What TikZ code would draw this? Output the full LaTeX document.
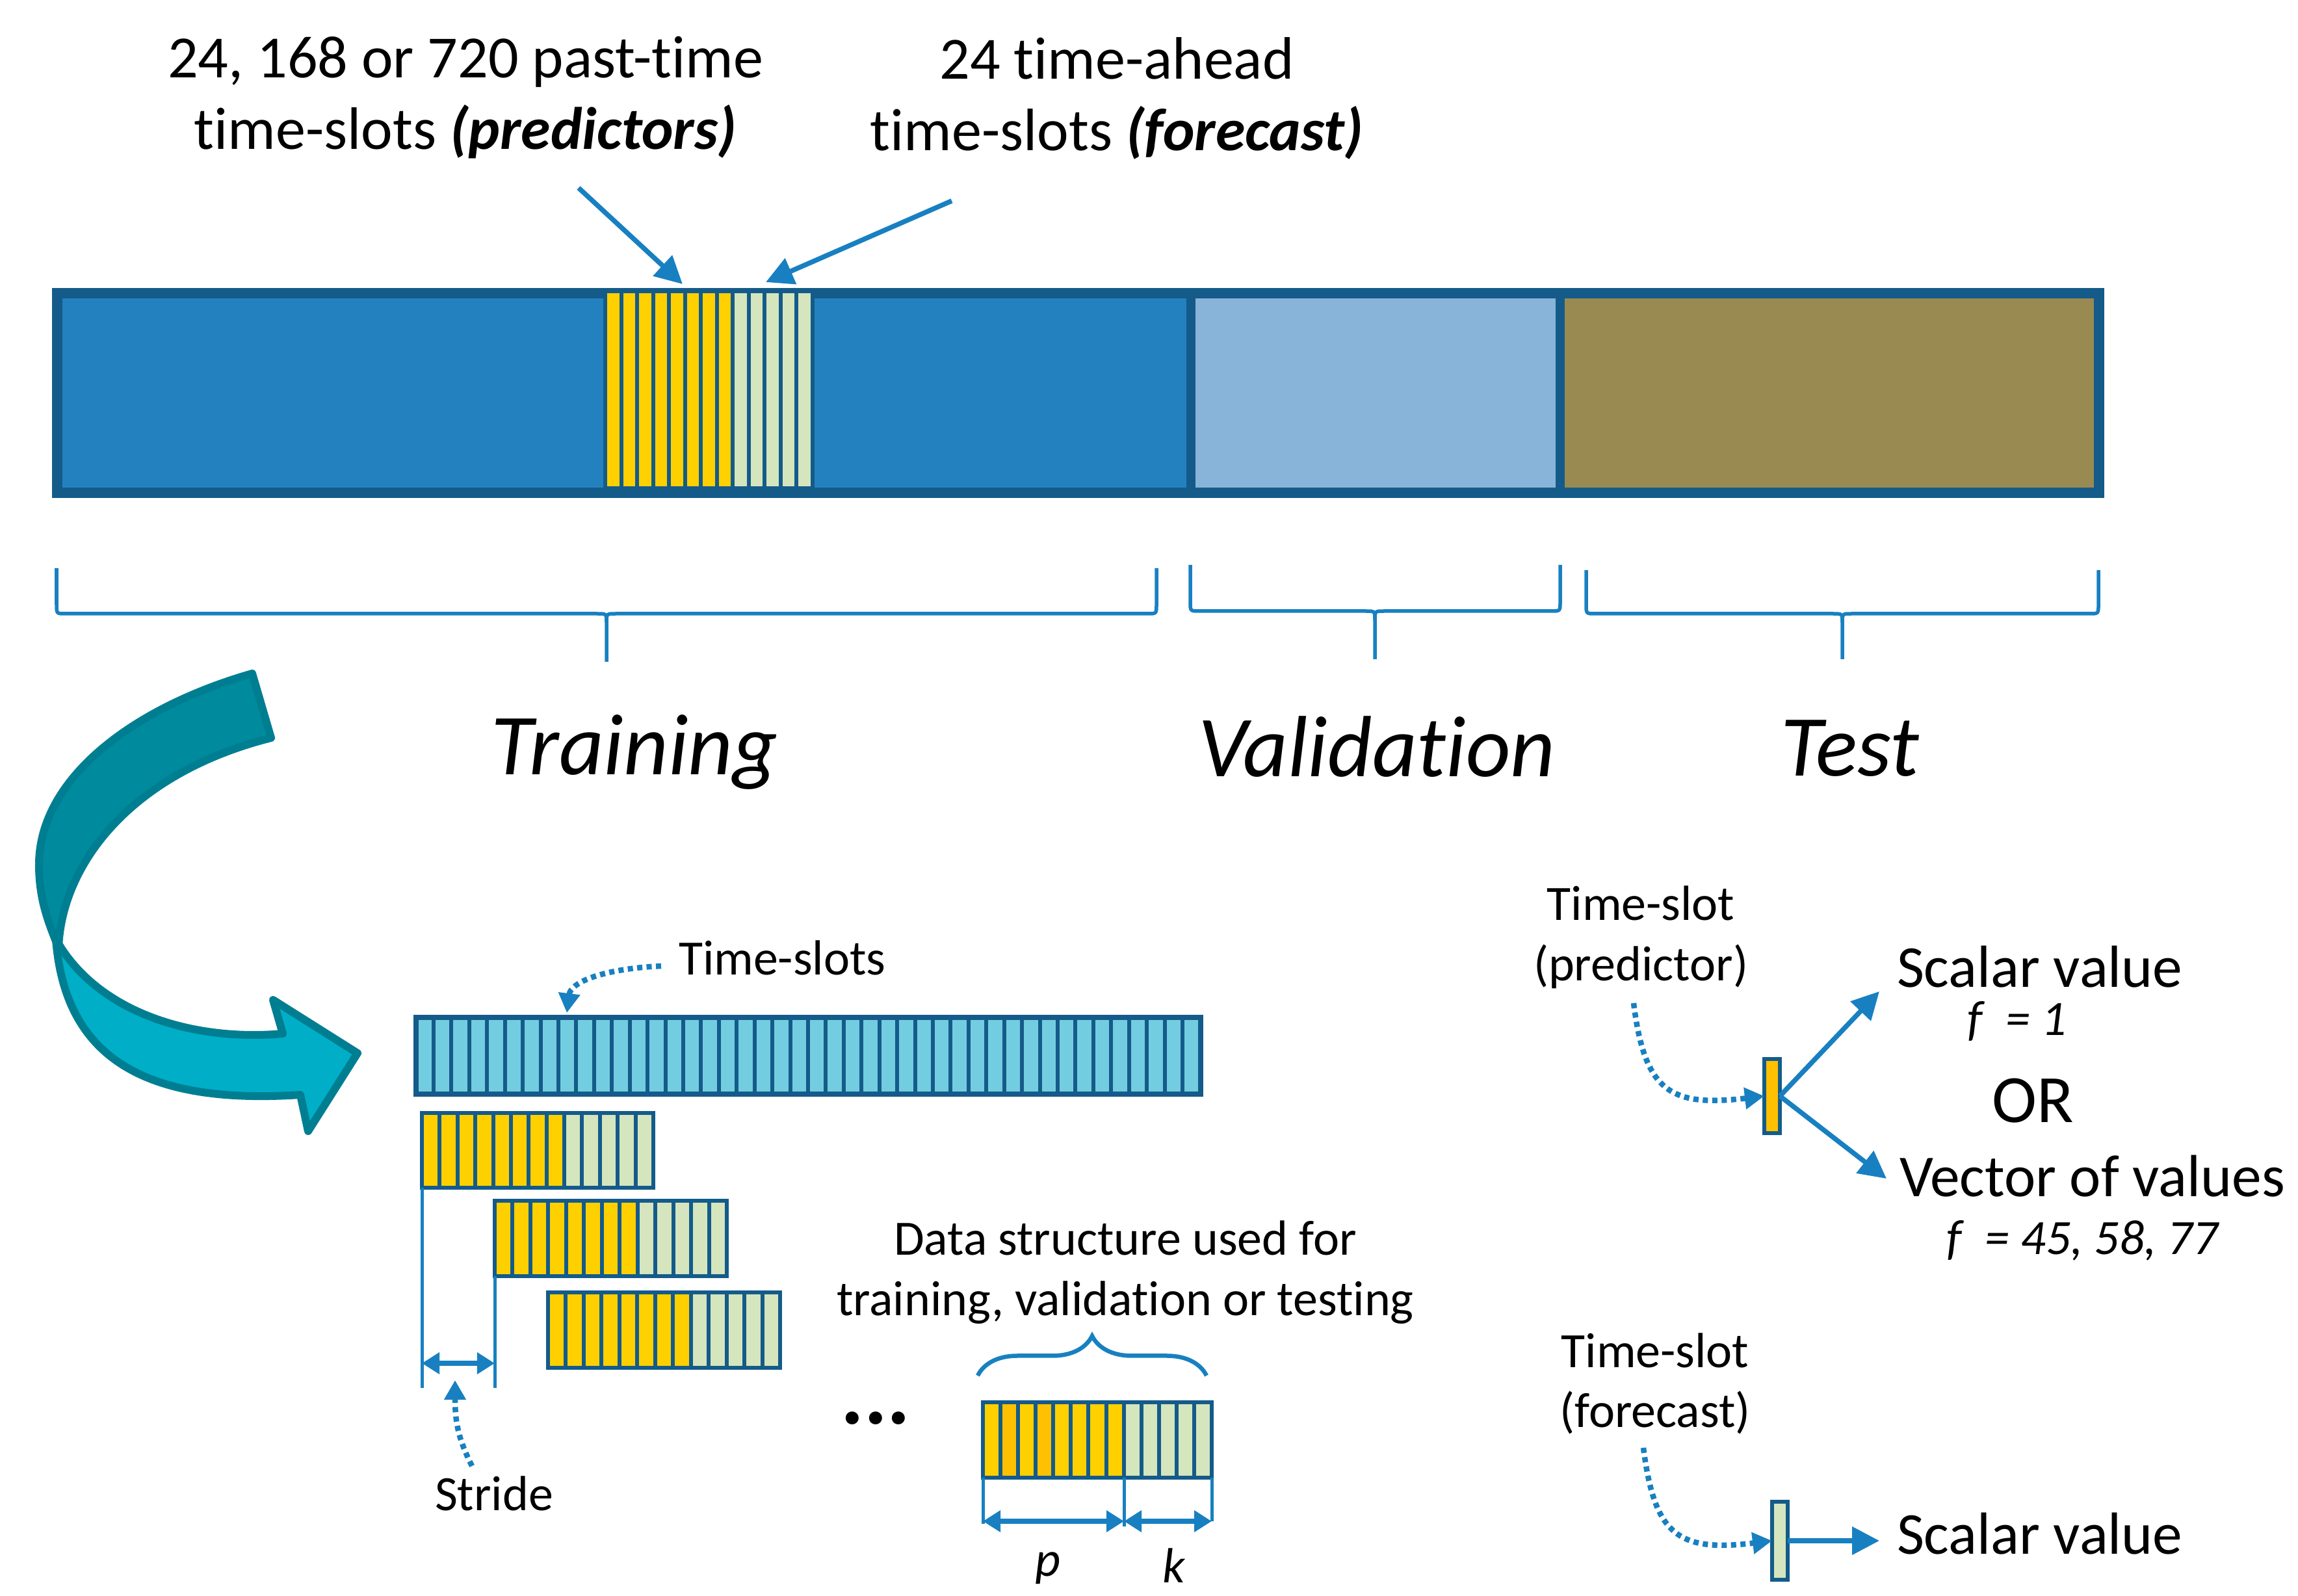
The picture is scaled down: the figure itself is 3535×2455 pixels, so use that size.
\documentclass[tikz,border=0pt]{standalone}
\usepackage{fontspec}
\setmainfont[Ligatures={NoCommon}]{Carlito}
\usetikzlibrary{arrows.meta,decorations.pathreplacing}
\definecolor{dkb}{RGB}{20,91,138}
\definecolor{trn}{RGB}{36,129,192}
\definecolor{vld}{RGB}{137,180,217}
\definecolor{tst}{RGB}{153,138,82}
\definecolor{ylw}{RGB}{255,208,0}
\definecolor{org}{RGB}{255,192,0}
\definecolor{grn}{RGB}{213,229,190}
\definecolor{cyn}{RGB}{115,205,224}
\definecolor{abl}{RGB}{24,128,193}
\definecolor{tdk}{RGB}{0,138,158}
\definecolor{tlt}{RGB}{0,174,199}
\definecolor{tol}{RGB}{0,126,145}
\newcommand\mywin[4]{%
  \foreach \i in {0,...,7} \draw[cellY] ({#1+\i*#3},#2) rectangle ++(#3,#4);
  \foreach \i in {8,...,12} \draw[cellG] ({#1+\i*#3},#2) rectangle ++(#3,#4);
}
\newcommand\topbrace[6]{%
  \draw[brc] (#1,#4) -- (#1,#5-14) .. controls (#1,#5) .. (#1+14,#5) -- (#3-14,#5) .. controls (#3,#5) .. (#3,#5+14) -- (#3,#6);
  \draw[brc] (#2,#4) -- (#2,#5-14) .. controls (#2,#5) .. (#2-14,#5) -- (#3+14,#5) .. controls (#3,#5) .. (#3,#5+14);
}
\begin{document}
\begin{tikzpicture}[x=0.01cm,y=-0.01cm,
  every node/.style={inner sep=0pt,outer sep=0pt},
  fA/.style={font=\fontsize{26.2}{31}\selectfont},
  fB/.style={font=\fontsize{21.6}{26}\selectfont},
  fC/.style={font=\fontsize{38}{44}\selectfont\itshape},
  fD/.style={font=\fontsize{26}{31}\selectfont},
  fE/.style={font=\fontsize{29.6}{34}\selectfont},
  fI/.style={font=\fontsize{21.6}{26}\selectfont\itshape},
  cellY/.style={fill=ylw,draw=dkb,line width=0.06cm},
  cellO/.style={fill=org,draw=dkb,line width=0.06cm},
  cellG/.style={fill=grn,draw=dkb,line width=0.06cm},
  cellC/.style={fill=cyn,draw=dkb,line width=0.06cm},
  brc/.style={draw=abl,line width=0.055cm},
  arr/.style={draw=abl,line width=0.075cm,-{Triangle[length=0.42cm,width=0.42cm]}},
  dim/.style={draw=abl,line width=0.08cm,{Triangle[length=0.27cm,width=0.32cm]}-{Triangle[length=0.27cm,width=0.32cm]}},
  vln/.style={draw=abl,line width=0.05cm},
  dotarr/.style={draw=abl,line width=0.085cm,dash pattern=on 0.08cm off 0.065cm,-{Triangle[length=0.3cm,width=0.32cm]}},
]
\useasboundingbox (0,0) rectangle (3535,2455);

% ---- top bar ----
\fill[trn] (88,451) rectangle (1832,758);
\fill[vld] (1832,451) rectangle (2400,758);
\fill[tst] (2400,451) rectangle (3229,758);
\draw[dkb,line width=0.14cm] (1832,451) -- (1832,758) (2400,451) -- (2400,758);
\draw[dkb,line width=0.16cm] (88,451) rectangle (3229,758);
\foreach \i in {0,...,7} \draw[cellY] ({931+\i*24.54},448) rectangle ++(24.54,303);
\foreach \i in {8,...,12} \draw[cellG] ({931+\i*24.54},448) rectangle ++(24.54,303);

% ---- top labels ----
\node[fA,anchor=base] (tl1) at (716,120) {24, 168 or 720 past-time};
\node[fA,anchor=base] (tl2) at (716,230) {time-slots \textbf{\textit{(predictors)}}};
\node[fA,anchor=base] (tr1) at (1718,122) {24 time-ahead};
\node[fA,anchor=base] (tr2) at (1718,232) {time-slots \textbf{\textit{(forecast)}}};
\coordinate (a1s) at (890,289); \coordinate (a1e) at (1050,437);
\coordinate (a2s) at (1464,309); \coordinate (a2e) at (1178,434);
\draw[arr] (a1s) -- (a1e);
\draw[arr] (a2s) -- (a2e);

% ---- braces ----
\topbrace{87}{1779}{933}{874}{944}{1018}
\topbrace{1831}{2400}{2115}{869}{940}{1014}
\topbrace{2440}{3228}{2834}{877}{944}{1014}
\node[fC,anchor=base] (trn) at (976,1192) {Training};
\node[fC,anchor=base] (val) at (2118,1195) {Validation};
\node[fC,anchor=base] (tst) at (2846,1193) {Test};

% ---- curved arrow ----
\filldraw[fill=tlt,draw=tol,line width=0.12cm,line join=round]
  (86,1445) .. controls (100,1625) and (220,1700) .. (462,1684) -- (474,1740) -- (550,1620) -- (420,1538) -- (435,1590)
  .. controls (300,1602) and (160,1560) .. (94,1458) -- cycle;
\filldraw[fill=tdk,draw=tol,line width=0.12cm,line join=round]
  (388,1036) .. controls (200,1090) and (60,1200) .. (60,1330) .. controls (60,1385) and (75,1420) .. (90,1458)
  .. controls (95,1330) and (200,1190) .. (417,1135) -- cycle;

% ---- time-slots bar ----
\foreach \i in {0,...,43} \draw[cellC] ({639.5+\i*27.43},1564.5) rectangle ++(27.43,118);
\draw[dkb,line width=0.08cm] (639.5,1564.5) rectangle (1846.5,1682.5);
\node[fB,anchor=base west] (tsl) at (1044,1499) {Time-slots};
\coordinate (tss) at (1017,1486); \coordinate (tse) at (872,1558);
\draw[dotarr] (tss) .. controls (930,1490) and (878,1510) .. (tse);

% ---- windows ----
\mywin{649}{1712}{27.38}{115}
\mywin{761}{1847}{27.46}{116}
\mywin{843}{1988}{27.46}{116}
\mywin{1512}{2157}{27.08}{116}
\draw[cellO] ({1512+27.08},2157) rectangle ++(27.08,116);
\draw[cellO] ({1512+3*27.08},2157) rectangle ++(27.08,116);

% ---- stride ----
\coordinate (s1) at (649,1827); \coordinate (s1b) at (649,2135);
\coordinate (s2) at (761,1963); \coordinate (s2b) at (761,2135);
\draw[vln] (s1) -- (s1b);
\draw[vln] (s2) -- (s2b);
\coordinate (d1) at (649,2097); \coordinate (d2) at (761,2097);
\draw[dim] (d1) -- (d2);
\node[fB,anchor=base] (str) at (760,2323) {Stride};
\coordinate (sts) at (726,2255); \coordinate (ste) at (700,2123);
\draw[dotarr] (sts) .. controls (706,2215) and (700,2190) .. (ste);

% ---- data structure ----
\node[fB,anchor=base] (ds1) at (1731,1930) {Data structure used for};
\node[fB,anchor=base] (ds2) at (1731,2023) {training, validation or testing};
\draw[abl,line width=0.065cm,decorate,decoration={brace,amplitude=0.61cm}] (1504,2116) -- (1856,2116);
\node[anchor=base,font=\fontsize{38}{40}\selectfont\bfseries] (dots) at (1347,2190) {...};
\coordinate (p1) at (1512,2273); \coordinate (p1b) at (1512,2344);
\coordinate (p2) at (1729,2273); \coordinate (p2b) at (1729,2348);
\coordinate (p3) at (1864,2273); \coordinate (p3b) at (1864,2340);
\draw[vln] (p1) -- (p1b);
\draw[vln] (p2) -- (p2b);
\draw[vln] (p3) -- (p3b);
\coordinate (q1) at (1512,2340); \coordinate (q2) at (1729,2340); \coordinate (q3) at (1864,2340);
\draw[dim] (q1) -- (q2);
\draw[dim] (q2) -- (q3);
\node[fI,anchor=base] (pl) at (1612,2424) {p};
\node[fI,anchor=base] (kl) at (1806,2434) {k};

% ---- predictor ----
\node[fB,anchor=base] (tp1) at (2524,1415) {Time-slot};
\node[fB,anchor=base] (tp2) at (2524,1508) {(predictor)};
\node[draw=dkb,fill=org,line width=0.06cm,minimum width=0.24cm,minimum height=1.14cm] (pc) at (2726,1686) {};
\coordinate (pds) at (2513,1543);
\draw[dotarr] (pds) .. controls (2530,1680) and (2570,1703) .. (pc.west);
\coordinate (pa1) at (2891,1525); \coordinate (pa2) at (2902,1813);
\draw[arr] (pc.east) -- (pa1);
\draw[arr] (pc.east) -- (pa2);
\node[fD,anchor=base west] (sv1) at (2918,1518) {Scalar value};
\node[fI,anchor=base] (f1) at (3103,1592) {f\hspace{0.25em} = 1};
\node[fE,anchor=base] (or) at (3127,1726) {OR};
\node[fD,anchor=base west] (vv) at (2922,1840) {Vector of values};
\node[fI,anchor=base] (f2) at (3203,1929) {f\hspace{0.25em} = 45, 58, 77};

% ---- forecast ----
\node[fB,anchor=base] (tf1) at (2546,2103) {Time-slot};
\node[fB,anchor=base] (tf2) at (2546,2195) {(forecast)};
\node[draw=dkb,fill=grn,line width=0.06cm,minimum width=0.24cm,minimum height=1.19cm] (fc) at (2738,2370) {};
\coordinate (fds) at (2528,2227);
\draw[dotarr] (fds) .. controls (2545,2360) and (2580,2388) .. (fc.west);
\coordinate (fa) at (2891,2370);
\draw[arr] (fc.east) -- (fa);
\node[fD,anchor=base west] (sv2) at (2918,2390) {Scalar value};
\end{tikzpicture}
\end{document}
